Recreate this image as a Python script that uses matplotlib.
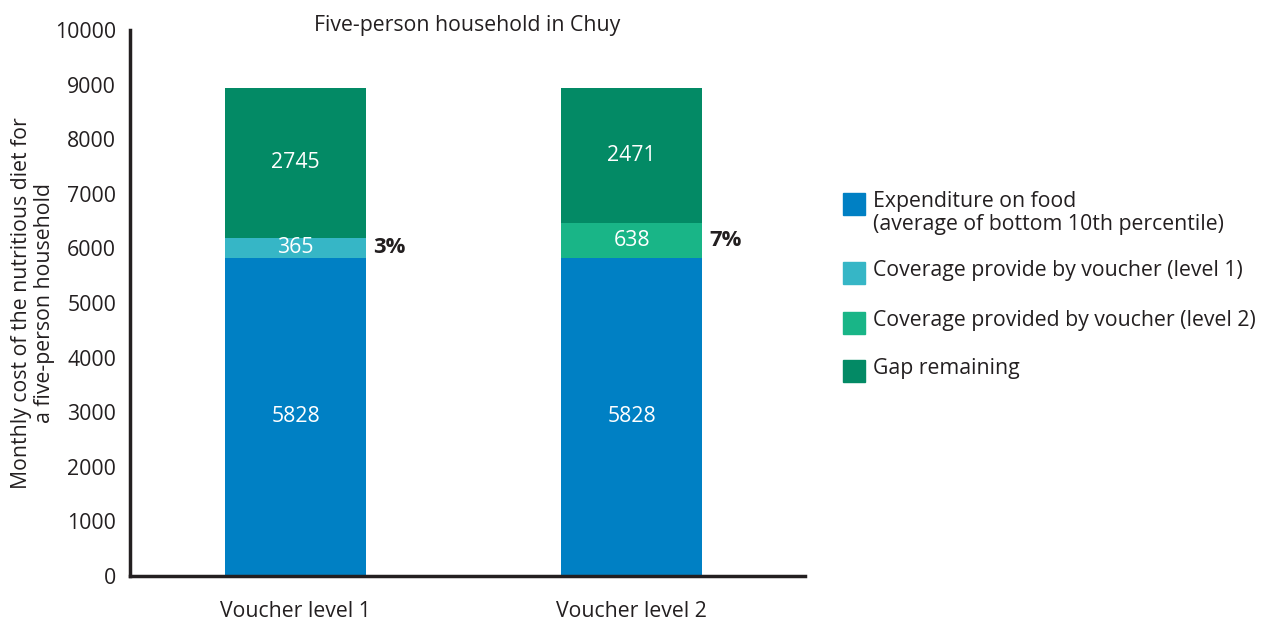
import numpy as np
import matplotlib.pyplot as plt
from matplotlib.patches import Rectangle

plt.rcParams['font.family'] = ['Open Sans', 'DejaVu Sans']

categories = ["Voucher level 1", "Voucher level 2"]
expenditure = [5828, 5828]
voucher_l1 = [365, 0]
voucher_l2 = [0, 638]
gap = [2745, 2471]
coverage_pct = ["3%", "7%"]

series_labels = ["Expenditure on food\n(average of bottom 10th percentile)",
                 "Coverage provide by voucher (level 1)",
                 "Coverage provided by voucher (level 2)",
                 "Gap remaining"]
colors = ["#0080C4", "#36B6C6", "#19B587", "#038A65"]
ink = "#231F20"

fig = plt.figure(figsize=(12.66, 6.23), dpi=100)
ax = fig.add_axes([0.1027, 0.0754, 0.5332, 0.8764])

x = np.arange(len(categories))
w = 0.42
b1 = np.array(expenditure)
b2 = b1 + np.array(voucher_l1)
b3 = b2 + np.array(voucher_l2)

ax.bar(x, expenditure, w, color=colors[0])
ax.bar(x, voucher_l1, w, bottom=b1, color=colors[1])
ax.bar(x, voucher_l2, w, bottom=b2, color=colors[2])
ax.bar(x, gap, w, bottom=b3, color=colors[3])

fs = 15.3
for i in range(len(categories)):
    ax.text(x[i], expenditure[i] / 2, str(expenditure[i]), ha="center", va="center",
            color="white", fontsize=fs)
    cov = voucher_l1[i] + voucher_l2[i]
    ax.text(x[i], b1[i] + cov / 2, str(cov), ha="center", va="center",
            color="white", fontsize=fs)
    ax.text(x[i] + w / 2 + 0.02, b1[i] + cov / 2, coverage_pct[i], ha="left",
            va="center", color=ink, fontsize=15.8, fontweight="bold")
    ax.text(x[i], b3[i] + gap[i] / 2, str(gap[i]), ha="center", va="center",
            color="white", fontsize=fs)

ax.set_xlim(-0.4926, 1.516)
ax.set_ylim(0, 10000)
ax.set_yticks(np.arange(0, 10001, 1000))
ax.set_xticks(x)
ax.set_xticklabels(categories)
ax.tick_params(length=0, labelsize=fs, colors=ink, pad=10)
ax.tick_params(axis="x", pad=18)
for s in ["top", "right"]:
    ax.spines[s].set_visible(False)
for s in ["left", "bottom"]:
    ax.spines[s].set_linewidth(2.5)
    ax.spines[s].set_color(ink)

ax.set_title("Five-person household in Chuy", fontsize=fs, color=ink, pad=0, y=0.998)
ax.set_ylabel("Monthly cost of the nutritious diet for\na five-person household",
              fontsize=fs, color=ink, linespacing=1.1, labelpad=0)

# legend drawn by hand so the square sits by the first line
ys = [204, 273, 323, 371]
H = 623.0
Wd = 1266.0
for lab, col, yy in zip(series_labels, colors, ys):
    fig.add_artist(Rectangle((843 / Wd, 1 - (yy + 11) / H), 22 / Wd, 22 / H,
                             transform=fig.transFigure, color=col))
    fig.text(873 / Wd, 1 - (yy - 13) / H, lab, ha="left", va="top",
             fontsize=fs, color=ink, linespacing=1.12)

fig.savefig("out.png", dpi=100)
